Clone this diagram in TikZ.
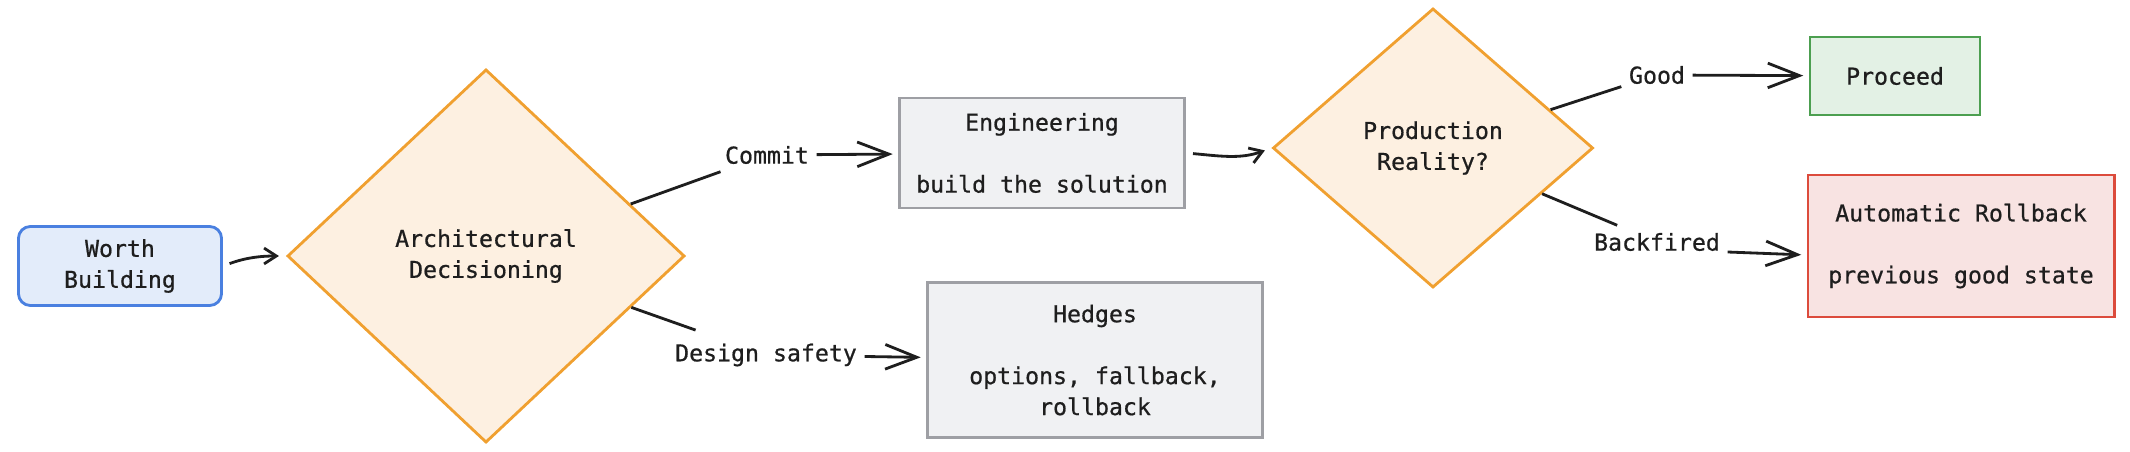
\documentclass[tikz,border=0pt]{standalone}
\usepackage{fontspec}
\setmonofont{DejaVu Sans Mono}[RawFeature={embolden=0.7}]
\usetikzlibrary{positioning, arrows.meta, calc, shapes.geometric}
\definecolor{startline}{HTML}{4A80E0}
\definecolor{startfill}{HTML}{E3ECFA}
\definecolor{decline}{HTML}{F0A030}
\definecolor{decfill}{HTML}{FDF0E1}
\definecolor{stepline}{HTML}{9E9FA4}
\definecolor{stepfill}{HTML}{F0F1F3}
\definecolor{okline}{HTML}{4C9F50}
\definecolor{okfill}{HTML}{E3F1E5}
\definecolor{badline}{HTML}{DC4B3C}
\definecolor{badfill}{HTML}{F8E3E2}
\definecolor{ink}{HTML}{1E1E1E}

\begin{document}
\begin{tikzpicture}[
  x=0.01cm, y=-0.01cm,
  txt/.style={font=\ttfamily\fontsize{6.6pt}{8.8pt}\selectfont, text=ink},
  box/.style={txt, draw, line width=0.8pt, align=center, inner sep=0pt},
  dec/.style={txt, diamond, draw=decline, fill=decfill, line width=0.8pt,
              align=center, inner sep=0pt},
  lbl/.style={txt, inner sep=2pt},
  ar/.style={-{Straight Barb[length=9pt,width=7pt]}, line width=0.8pt, ink,
             shorten >=1.5pt},
  car/.style={-{Straight Barb[length=3.5pt,width=4.5pt]}, line width=0.8pt, ink,
              shorten <=2pt, shorten >=2pt},
  seg/.style={line width=0.8pt, ink},
]
  \useasboundingbox (0,0) rectangle (2130,452);

  \node[box, draw=startline, fill=startfill, rounded corners=3.4pt,
        minimum width=2.03cm, minimum height=0.79cm] (worth) at (120,266) {Worth\\Building};
  \node[dec, minimum width=3.97cm, minimum height=3.73cm] (arch) at (486,256) {Architectural\\Decisioning};
  \node[box, draw=stepline, fill=stepfill,
        minimum width=2.85cm, minimum height=1.10cm] (eng) at (1042,153) {Engineering\\[8.8pt]build the solution};
  \node[box, draw=stepline, fill=stepfill,
        minimum width=3.35cm, minimum height=1.55cm] (hedge) at (1095,360) {Hedges\\[8.8pt]options, fallback,\\rollback};
  \node[dec, minimum width=3.20cm, minimum height=2.79cm] (prod) at (1433,148) {Production\\Reality?};
  \node[box, draw=okline, fill=okfill,
        minimum width=1.70cm, minimum height=0.78cm] (go) at (1895,76) {Proceed};
  \node[box, draw=badline, fill=badfill,
        minimum width=3.06cm, minimum height=1.42cm] (back) at (1961,246) {Automatic Rollback\\[8.8pt]previous good state};

  % edge labels
  \node[lbl] (commit) at (767,155) {Commit};
  \node[lbl] (safety) at (766,355) {Design safety};
  \node[lbl] (good) at (1657,75) {Good};
  \node[lbl] (fired) at (1657,242) {Backfired};

  \draw[car] (worth.east) to[out=20, in=180] (arch.west);
  \draw[seg] (arch) -- (commit);
  \draw[ar] (commit) -- (eng);
  \draw[seg, shorten >=5pt] (arch) -- (safety);
  \draw[ar] (safety) -- (hedge);
  \draw[car] (eng.east) to[out=-5, in=200] (prod.west);
  \draw[seg] (prod) -- (good);
  \draw[ar] (good) -- (go);
  \draw[seg] (prod) -- (fired);
  \draw[ar] ([yshift=-0.1cm]fired.east) -- ([yshift=-0.09cm]back.west);
\end{tikzpicture}
\end{document}
